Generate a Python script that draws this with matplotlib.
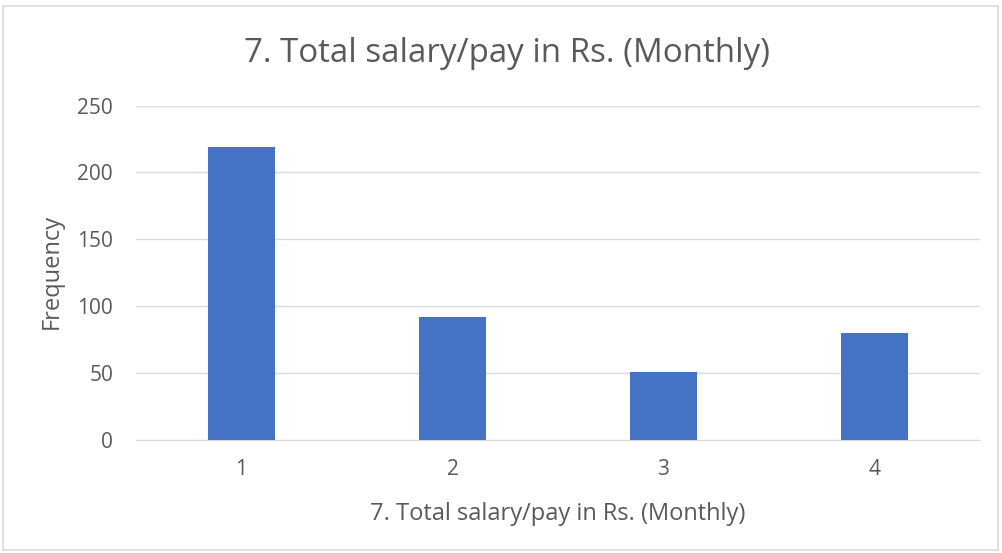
import matplotlib
matplotlib.use("Agg")
import matplotlib.pyplot as plt
from matplotlib.patches import Rectangle

categories = ["1", "2", "3", "4"]
values = [219, 92, 51, 80]
yticks = [0, 50, 100, 150, 200, 250]
title = "7. Total salary/pay in Rs. (Monthly)"
xlabel = "7. Total salary/pay in Rs. (Monthly)"
ylabel = "Frequency"

plt.rcParams['font.family'] = ['Open Sans', 'DejaVu Sans']
W, H = 1002, 553
fig = plt.figure(figsize=(W/100, H/100), dpi=100)
fig.patches.append(Rectangle((3/W, 3/H), 995/W, 544/H, transform=fig.transFigure,
                             fill=False, edgecolor="#d9d9d9", linewidth=1.2))

ax = fig.add_axes([136/W, 1-440/H, (980-136)/W, (440-105.5)/H])
x = list(range(len(categories)))
ax.bar(x, values, width=0.317, color="#4472C4", zorder=3)
ax.set_xlim(-0.5, len(categories)-0.5)
ax.set_ylim(0, 250)
ax.set_yticks(yticks)
ax.set_xticks(x)
ax.set_xticklabels(categories)
ax.grid(axis='y', color="#d9d9d9", linewidth=1, zorder=0)
for s in ['top', 'right', 'left']:
    ax.spines[s].set_visible(False)
ax.spines['bottom'].set_color("#d9d9d9")
ax.tick_params(axis='both', length=0, colors="#595959", labelsize=15)
ax.tick_params(axis='y', pad=16.5)
ax.tick_params(axis='x', pad=14)
fig.text(558/W, 1-514/H, xlabel, fontsize=17, color="#595959", ha='center', va='center')
fig.text(52/W, 1-271/H, ylabel, fontsize=17, color="#595959", ha='center', va='center', rotation=90)
fig.text(506.5/W, 1-53/H, title, fontsize=23.8, color="#595959", ha='center', va='center')
fig.savefig("out.png", dpi=100)
